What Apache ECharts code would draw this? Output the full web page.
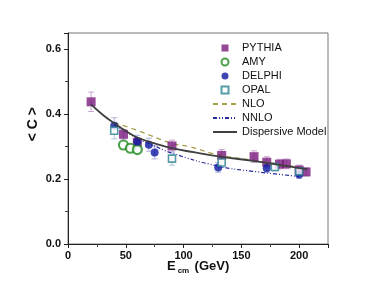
<!DOCTYPE html>
<html><head><meta charset="utf-8">
<script src="https://cdn.jsdelivr.net/npm/echarts@6/dist/echarts.min.js"></script>
<style>html,body{margin:0;padding:0;background:#fff}#c{width:380px;height:294px}</style>
</head><body><div id="c"></div>
<script>
var pythiaX = [20, 48, 60, 90, 133, 161, 172, 183, 189, 200, 206];
var pythiaY = [0.438, 0.338, 0.313, 0.302, 0.273, 0.269, 0.252, 0.246, 0.247, 0.228, 0.222];
var pythiaErr = [0.03, 0.015, 0.015, 0.018, 0.018, 0.018, 0.017, 0.015, 0.015, 0.015, 0.012];
var amyX = [48, 54, 60];
var amyY = [0.305, 0.295, 0.291];
var delphiX = [40, 60, 70, 75, 130, 172, 200];
var delphiY = [0.364, 0.315, 0.306, 0.282, 0.236, 0.233, 0.214];
var delphiErr = [0.025, 0.02, 0.02, 0.02, 0.015, 0.012, 0.012];
var opalX = [40, 90, 133, 179, 200];
var opalY = [0.349, 0.263, 0.251, 0.237, 0.224];
var opalErr = [0.025, 0.02, 0.015, 0.012, 0.012];
var nloX = [40, 60, 90, 105, 130, 160, 200];
var nloY = [0.374, 0.35, 0.31, 0.30, 0.275, 0.258, 0.236];
var nnloX = [40, 60, 70, 90, 130, 160, 200];
var nnloY = [0.368, 0.325, 0.31, 0.28, 0.24, 0.224, 0.208];
var dispX = [20, 30, 40, 50, 60, 75, 90, 110, 130, 160, 180, 200, 207];
var dispY = [0.43, 0.398, 0.372, 0.348, 0.328, 0.31, 0.295, 0.282, 0.27, 0.256, 0.245, 0.234, 0.231];
var xTicks = [0, 50, 100, 150, 200];
var yTicks = [0.0, 0.2, 0.4, 0.6];

function pairs(xs, ys) { return xs.map(function (x, i) { return [x, ys[i]]; }); }
function triples(xs, ys, es) { return xs.map(function (x, i) { return [x, ys[i], es[i]]; }); }
function errSeries(xs, ys, es, color) {
  return {
    type: 'custom', silent: true, z: 1,
    data: triples(xs, ys, es),
    encode: { x: 0, y: 1 },
    renderItem: function (params, api) {
      var x = api.value(0), y = api.value(1), e = api.value(2);
      var top = api.coord([x, y + e]), bot = api.coord([x, y - e]);
      return {
        type: 'group', children: [
          { type: 'line', shape: { x1: top[0], y1: top[1], x2: bot[0], y2: bot[1] }, style: { stroke: color, lineWidth: 1 } },
          { type: 'line', shape: { x1: top[0] - 3, y1: top[1], x2: top[0] + 3, y2: top[1] }, style: { stroke: color, lineWidth: 1 } },
          { type: 'line', shape: { x1: bot[0] - 3, y1: bot[1], x2: bot[0] + 3, y2: bot[1] }, style: { stroke: color, lineWidth: 1 } }
        ]
      };
    }
  };
}
var sq = 'path://M0,0L10,0L10,10L0,10Z';
var clear = { color: 'rgba(0,0,0,0)', borderColor: 'rgba(0,0,0,0)', borderWidth: 0 };
var font = 'Liberation Sans, Arial, sans-serif';
var chart = echarts.init(document.getElementById('c'));
chart.setOption({
  animation: false,
  backgroundColor: '#fff',
  grid: { left: 68, right: 52, top: 33, bottom: 50, show: true, borderColor: '#777', borderWidth: 1, backgroundColor: 'transparent' },
  xAxis: {
    type: 'value', min: 0, max: 225, interval: 50,
    axisLine: { onZero: false, lineStyle: { color: '#222', width: 1 } },
    axisTick: { length: 4, lineStyle: { color: '#222' } },
    minorTick: { show: true, splitNumber: 2, length: 3, lineStyle: { color: '#444' } },
    splitLine: { show: false },
    axisLabel: { color: '#111', fontFamily: font, fontWeight: 'bold', fontSize: 11, margin: 6,
      formatter: function (v) { return xTicks.indexOf(v) >= 0 ? String(v) : ''; } }
  },
  yAxis: {
    type: 'value', min: 0, max: 0.65, interval: 0.2,
    axisLine: { show: true, lineStyle: { color: '#222', width: 1 } },
    axisTick: { show: true, length: 4, lineStyle: { color: '#222' } },
    minorTick: { show: true, splitNumber: 2, length: 3, lineStyle: { color: '#444' } },
    splitLine: { show: false },
    axisLabel: { color: '#111', fontFamily: font, fontWeight: 'bold', fontSize: 11, margin: 7,
      formatter: function (v) {
        for (var i = 0; i < yTicks.length; i++) { if (Math.abs(v - yTicks[i]) < 1e-6) return yTicks[i].toFixed(1); }
        return '';
      } }
  },
  legend: {
    orient: 'vertical', left: 212, top: 42, padding: 0, itemWidth: 24, itemHeight: 7, itemGap: 2,
    textStyle: { fontFamily: font, fontSize: 11, color: '#111', lineHeight: 12 },
    data: [
      { name: 'PYTHIA', icon: sq },
      { name: 'AMY', icon: 'circle' },
      { name: 'DELPHI', icon: 'circle' },
      { name: 'OPAL', icon: sq },
      { name: 'NLO', itemStyle: clear },
      { name: 'NNLO', itemStyle: clear },
      { name: 'Dispersive Model', itemStyle: clear }
    ]
  },
  graphic: [
    { type: 'text', left: 26, top: 107, rotation: Math.PI / 2, style: { text: '< C >', font: 'bold 14px ' + font, fill: '#111' } },
    { type: 'text', left: 167, top: 260, style: { text: '{e|E}{s|cm} {e|(GeV)}', rich: {
      e: { font: 'bold 13px ' + font, fill: '#111' },
      s: { font: 'bold 8px ' + font, fill: '#111', padding: [8, 2, 0, 2] } } } }
  ],
  series: [
    errSeries(pythiaX, pythiaY, pythiaErr, '#c8a6d0'),
    errSeries(delphiX, delphiY, delphiErr, '#b0b4dc'),
    errSeries(opalX, opalY, opalErr, '#b0c4d8'),
    { name: 'NLO', type: 'line', data: pairs(nloX, nloY), symbol: 'none', smooth: true, z: 2,
      lineStyle: { color: '#a8a048', width: 1.3, type: [5, 4] }, itemStyle: { color: '#a8a048' } },
    { name: 'NNLO', type: 'line', data: pairs(nnloX, nnloY), symbol: 'none', smooth: true, z: 2,
      lineStyle: { color: '#2828a0', width: 1.2, type: [4, 2, 1, 2, 1, 2] }, itemStyle: { color: '#2828a0' } },
    { name: 'PYTHIA', type: 'scatter', data: pairs(pythiaX, pythiaY), symbol: 'rect', symbolSize: 9, z: 3,
      symbolKeepAspect: true, itemStyle: { color: '#7a1a7e' } },
    { name: 'AMY', type: 'scatter', data: pairs(amyX, amyY), symbol: 'circle', symbolSize: 9, z: 3,
      itemStyle: { color: '#fff', borderColor: '#1f8a1f', borderWidth: 2.2 } },
    { name: 'DELPHI', type: 'scatter', data: pairs(delphiX, delphiY), symbol: 'circle', symbolSize: 8, z: 4,
      itemStyle: { color: '#0c18a0' } },
    { name: 'OPAL', type: 'scatter', data: pairs(opalX, opalY), symbol: 'rect', symbolSize: 7, z: 5,
      symbolKeepAspect: true, itemStyle: { color: '#fff', borderColor: '#2a8590', borderWidth: 1.6 } },
    { name: 'Dispersive Model', type: 'line', data: pairs(dispX, dispY), symbol: 'none', smooth: true, z: 6,
      lineStyle: { color: '#404040', width: 1.8 }, itemStyle: { color: '#404040' } }
  ]
});
</script></body></html>
